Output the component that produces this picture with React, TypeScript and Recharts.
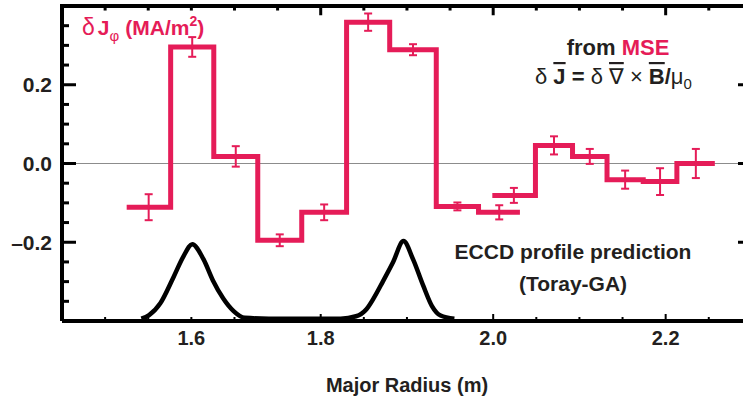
import React from "react";
import {
  ComposedChart,
  Line,
  Scatter,
  ErrorBar,
  XAxis,
  YAxis,
  ReferenceLine,
} from "recharts";

const RED = "#e51c58";
const INK = "#231f20";
const SANS = "'Liberation Sans', Arial, 'DejaVu Sans', sans-serif";

// MSE step profile, first set (bin edges in m, δJφ in MA/m2)
const setAEdges = [1.575, 1.626, 1.676, 1.727, 1.778, 1.83, 1.88, 1.934, 1.983, 2.031];
const setAValues = [-0.111, 0.296, 0.018, -0.195, -0.124, 0.359, 0.289, -0.109, -0.124];
const setAErrors = [0.033, 0.025, 0.026, 0.015, 0.02, 0.022, 0.014, 0.01, 0.018];

// second, overlapping set on the outboard side
const setBEdges = [1.999, 2.049, 2.092, 2.132, 2.174, 2.213, 2.257];
const setBValues = [-0.081, 0.046, 0.018, -0.041, -0.046, 0.0];
const setBErrors = [0.019, 0.023, 0.019, 0.023, 0.034, 0.037];

// Toray-GA ECCD prediction, drawn on the same axis
const eccdR = [
  1.592, 1.601, 1.614, 1.629, 1.641, 1.651, 1.664, 1.675, 1.687, 1.699, 1.712, 1.74,
  1.823, 1.841, 1.853, 1.862, 1.872, 1.884, 1.896, 1.907, 1.919, 1.929, 1.939, 1.955,
];
const eccdJ = [
  -0.394, -0.385, -0.355, -0.29, -0.235, -0.205, -0.243, -0.297, -0.343, -0.375, -0.392, -0.394,
  -0.394, -0.388, -0.37, -0.34, -0.3, -0.25, -0.197, -0.243, -0.311, -0.362, -0.386, -0.394,
];

const yTicks = [-0.35, -0.3, -0.25, -0.2, -0.15, -0.1, -0.05, 0, 0.05, 0.1, 0.15, 0.2, 0.25, 0.3, 0.35];
const yLabelAt = [-0.2, 0, 0.2];
const yLabelText = ["\u20130.2", "0.0", "0.2"];

const xTicks = [
  1.55, 1.6, 1.65, 1.7, 1.75, 1.8, 1.85, 1.9, 1.95, 2.0, 2.05, 2.1, 2.15, 2.2, 2.25,
];
const xMajor = [1.8, 2.0, 2.2];
const xLabelAt = [1.65, 1.8, 2.0, 2.2];
const xLabelText = ["1.6", "1.8", "2.0", "2.2"];

const X_MIN = 1.5;
const X_MAX = 2.292;
const Y_MIN = -0.4;
const Y_MAX = 0.4;
const Y_TOP = 0.3995; // just inside the top so it is not discarded

const near = (a: number, b: number) => Math.abs(a - b) < 1e-6;

const stepPoints = (edges: number[], values: number[]) =>
  edges.map((R, i) => ({ R, v: values[Math.min(i, values.length - 1)] }));

const barPoints = (edges: number[], values: number[], errs: number[]) =>
  values.map((v, i) => ({ R: (edges[i] + edges[i + 1]) / 2, v, err: errs[i] }));

const setA = stepPoints(setAEdges, setAValues);
const setB = stepPoints(setBEdges, setBValues);
const bars = [
  ...barPoints(setAEdges, setAValues, setAErrors),
  ...barPoints(setBEdges, setBValues, setBErrors),
];
const eccd = eccdR.map((R, i) => ({ R, v: eccdJ[i] }));

function LeftTick(props: any) {
  const { x, y, payload } = props;
  const idx = yLabelAt.findIndex((v) => near(v, payload.value));
  const major = idx >= 0;
  return (
    <g>
      <line x1={x} x2={x + (major ? 14 : 7)} y1={y} y2={y} stroke="#000" strokeWidth={3} />
      {major && (
        <text x={x - 10} y={y} dy="0.36em" textAnchor="end" fontFamily={SANS} fontWeight="bold" fontSize={21} fill={INK}>
          {yLabelText[idx]}
        </text>
      )}
    </g>
  );
}

function RightTick(props: any) {
  const { x, y, payload } = props;
  if (!yLabelAt.some((v) => near(v, payload.value))) return <g />;
  return <line x1={x} x2={x - 7} y1={y} y2={y} stroke="#000" strokeWidth={3} />;
}

function BottomTick(props: any) {
  const { x, y, payload } = props;
  const major = xMajor.some((v) => near(v, payload.value));
  const idx = xLabelAt.findIndex((v) => near(v, payload.value));
  return (
    <g>
      <line x1={x} x2={x} y1={y} y2={y - (major ? 7 : 4)} stroke="#000" strokeWidth={2} />
      {idx >= 0 && (
        <text x={x} y={y + 24} textAnchor="middle" fontFamily={SANS} fontWeight="bold" fontSize={20} fill={INK}>
          {xLabelText[idx]}
        </text>
      )}
    </g>
  );
}

export default function App() {
  return (
    <div style={{ position: "absolute", left: 0, top: 0, width: 743, height: 405, overflow: "hidden", background: "#fff" }}>
      <ComposedChart width={760} height={405} margin={{ top: 6, right: 0, bottom: 0, left: 0 }}>
        <XAxis
          xAxisId="bottom"
          dataKey="R"
          type="number"
          domain={[X_MIN, X_MAX]}
          ticks={xTicks}
          interval={0}
          height={84}
          tickSize={0}
          tickMargin={0}
          tickLine={false}
          axisLine={{ stroke: "#000", strokeWidth: 4 }}
          tick={<BottomTick />}
        />
        <YAxis
          yAxisId="left"
          type="number"
          domain={[Y_MIN, Y_MAX]}
          ticks={yTicks}
          interval={0}
          width={62}
          tickSize={0}
          tickMargin={0}
          tickLine={false}
          axisLine={{ stroke: "#000", strokeWidth: 4 }}
          tick={<LeftTick />}
        />
        <YAxis
          yAxisId="right"
          orientation="right"
          type="number"
          domain={[Y_MIN, Y_MAX]}
          ticks={yTicks}
          interval={0}
          width={15}
          tickSize={0}
          tickMargin={0}
          tickLine={false}
          axisLine={{ stroke: "#000", strokeWidth: 4 }}
          tick={<RightTick />}
        />
        <ReferenceLine xAxisId="bottom" yAxisId="left" y={0} stroke="#8c8c8c" strokeWidth={1} />
        {/* inward ticks on the top frame */}
        {xTicks.map((t) => (
          <ReferenceLine
            key={t}
            xAxisId="bottom"
            yAxisId="left"
            segment={[
              { x: t, y: Y_TOP },
              { x: t, y: Y_TOP - (xMajor.some((v) => near(v, t)) ? 0.023 : 0.011) },
            ]}
            stroke="#000"
            strokeWidth={3}
          />
        ))}
        {/* keeps the right frame axis in use */}
        <Scatter
          xAxisId="bottom"
          yAxisId="right"
          data={bars}
          dataKey="v"
          shape={() => <g />}
          isAnimationActive={false}
        />
        <Line
          xAxisId="bottom"
          yAxisId="left"
          data={eccd}
          dataKey="v"
          type="monotone"
          stroke="#000"
          strokeWidth={4.5}
          dot={false}
          isAnimationActive={false}
        />
        <Line
          xAxisId="bottom"
          yAxisId="left"
          data={setA}
          dataKey="v"
          type="stepAfter"
          stroke={RED}
          strokeWidth={5}
          dot={false}
          isAnimationActive={false}
        />
        <Line
          xAxisId="bottom"
          yAxisId="left"
          data={setB}
          dataKey="v"
          type="stepAfter"
          stroke={RED}
          strokeWidth={5}
          dot={false}
          isAnimationActive={false}
        />
        <Scatter
          xAxisId="bottom"
          yAxisId="left"
          data={bars}
          dataKey="v"
          shape={() => <g />}
          isAnimationActive={false}
        >
          <ErrorBar dataKey="err" direction="y" width={4} stroke={RED} strokeWidth={2} isAnimationActive={false} />
        </Scatter>
      </ComposedChart>

      <svg width={743} height={405} style={{ position: "absolute", left: 0, top: 0, pointerEvents: "none" }}>
        {/* top frame of the plot box */}
        <line x1={60} x2={743} y1={6} y2={6} stroke="#000" strokeWidth={4} />

        <text x={82} y={35} fill={RED} fontFamily={SANS} fontWeight="bold" fontSize={21}>
          <tspan fontWeight="normal" fontSize={23}>δ</tspan>
          <tspan dx={3}>J</tspan>
          <tspan fontSize={15} fontWeight="normal" dy={6}>φ</tspan>
          <tspan dy={-6} dx={6}>(MA/m</tspan>
          <tspan fontSize={14} dy={-9}>2</tspan>
          <tspan dy={9}>)</tspan>
        </text>

        <text x={618} y={55} textAnchor="middle" fill={INK} fontFamily={SANS} fontWeight="bold" fontSize={22}>
          from <tspan fill={RED}>MSE</tspan>
        </text>
        <text x={535} y={84} fill={INK} fontFamily={SANS} fontSize={22}>
          <tspan>δ </tspan>
          <tspan fontWeight="bold" style={{ textDecoration: "overline" }}>J</tspan>
          <tspan fontWeight="bold"> = </tspan>
          <tspan>δ </tspan>
          <tspan style={{ textDecorationLine: "overline", textDecorationStyle: "double" }}>∇</tspan>
          <tspan> × </tspan>
          <tspan fontWeight="bold" style={{ textDecoration: "overline" }}>B</tspan>
          <tspan fontWeight="bold">/</tspan>
          <tspan>μ</tspan>
          <tspan fontSize={15} dy={5}>0</tspan>
        </text>

        <text x={573} y={259} textAnchor="middle" fill={INK} fontFamily={SANS} fontWeight="bold" fontSize={21}>
          ECCD profile prediction
        </text>
        <text x={573} y={291} textAnchor="middle" fill={INK} fontFamily={SANS} fontWeight="bold" fontSize={21}>
          (Toray-GA)
        </text>

        <text x={407} y={392} textAnchor="middle" fill={INK} fontFamily={SANS} fontWeight="bold" fontSize={20}>
          Major Radius (m)
        </text>
      </svg>
    </div>
  );
}
